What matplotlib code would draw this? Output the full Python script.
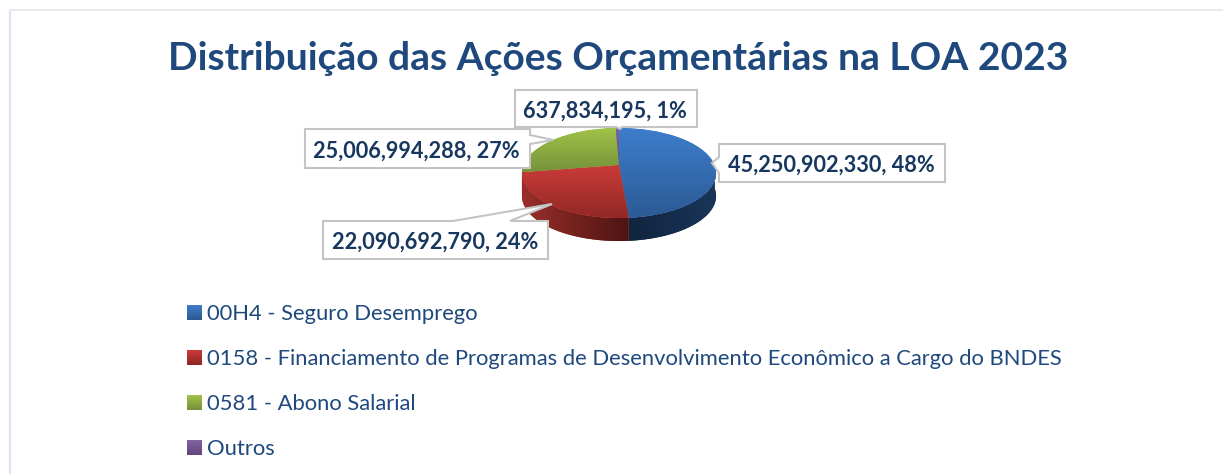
import numpy as np
import matplotlib
matplotlib.use("Agg")
import matplotlib.pyplot as plt
from matplotlib.colors import LinearSegmentedColormap as LSC
from matplotlib.legend_handler import HandlerBase
from matplotlib.patches import Patch, Polygon, Rectangle
from matplotlib.transforms import Transform

title = "Distribuição das Ações Orçamentárias na LOA 2023"
categories = ["00H4 - Seguro Desemprego",
              "0158 - Financiamento de Programas de Desenvolvimento Econômico a Cargo do BNDES",
              "0581 - Abono Salarial",
              "Outros"]
values = [45250902330, 22090692790, 25006994288, 637834195]
percents = [48, 24, 27, 1]

top_cols = [("#3E7DCC", "#2C5A94"), ("#CB3B38", "#922826"), ("#A0C348", "#76923A"), ("#8064A2", "#64477F")]
wall_cols = [("#10253F", "#1A3558"), ("#9A2E2B", "#4E1512"), ("#9A2E2B", "#9A2E2B"), ("#50386B", "#50386B")]
TXT = "#1F497D"
LBL = "#17375E"
FONT = "Lato"
plt.rcParams["font.family"] = [FONT, "DejaVu Sans"]

W, H = 1223, 474
fig = plt.figure(figsize=(W / 100, H / 100), dpi=100, facecolor="white")
ax = fig.add_axes([0, 0, 1, 1])


class Persp(Transform):
    """Tilted-disc projection: unit pie disc -> figure pixel coordinates."""
    input_dims = output_dims = 2
    has_inverse = False
    is_separable = False
    CX, CY, AX, AY, K = 619.0, 165.0, 95.5, 43.6, 0.178

    def transform_non_affine(self, v):
        v = np.asarray(v, float)
        w = 1 + self.K * v[:, 1]
        return np.column_stack([self.CX + self.AX * v[:, 0] / w, self.CY - self.AY * v[:, 1] / w])


persp = Persp()
wedges, _ = ax.pie(values, startangle=90, counterclock=False, radius=1)
ax.set_aspect("auto")
ax.set_xlim(0, W)
ax.set_ylim(H, 0)
ax.set_autoscale_on(False)
ax.axis("off")

DEPTH = 23
for w, (c0, c1), (s0, s1) in zip(wedges, top_cols, wall_cols):
    # side wall: visible part of the rim (front half only)
    a0, a1 = w.theta1 % 360, w.theta2 % 360
    if a1 <= a0:
        a1 += 360
    th = np.radians(np.linspace(a0, a1, 200))
    pts = np.column_stack([np.cos(th), np.sin(th)])
    pts = pts[pts[:, 1] <= 0.0]
    if len(pts) > 1:
        rim = persp.transform_non_affine(pts)
        poly = np.vstack([rim, (rim + [0, DEPTH])[::-1]])
        wall = Polygon(poly, closed=True, fc=s0, ec="none", zorder=2)
        ax.add_patch(wall)
        x0, x1 = poly[:, 0].min(), poly[:, 0].max()
        im = ax.imshow(np.linspace(0, 1, 128)[None, :], cmap=LSC.from_list("w", [s0, s1]),
                       extent=(x0, x1, poly[:, 1].max(), poly[:, 1].min()), aspect="auto", zorder=2.1)
        im.set_clip_path(wall)
    # top surface
    w.set_transform(persp + ax.transData)
    w.set_facecolor(c0)
    w.set_edgecolor("none")
    w.set_zorder(3)
    th = np.radians(np.linspace(w.theta1, w.theta2, 100))
    outline = persp.transform_non_affine(np.vstack([[0, 0], np.column_stack([np.cos(th), np.sin(th)])]))
    im = ax.imshow(np.linspace(0, 1, 128)[:, None], cmap=LSC.from_list("t", [c0, c1]),
                   extent=(outline[:, 0].min(), outline[:, 0].max(), outline[:, 1].max(), outline[:, 1].min()),
                   aspect="auto", zorder=3.1)
    im.set_clip_path(w)
ax.set_xlim(0, W)
ax.set_ylim(H, 0)

# chart-area frame
ax.plot([9.5, 9.5], [9.5, H], color="#DCE6F2", lw=1.6, zorder=1, solid_capstyle="butt")
ax.plot([9.5, W], [9.5, 9.5], color="#E0E6EC", lw=1.2, zorder=1, solid_capstyle="butt")

ax.text(618, 58, title, ha="center", va="center", fontsize=28.1, fontweight="bold", color=TXT, zorder=6)

# callouts in series order: label box centre, and outline = box plus pointer
callouts = [
    ((831, 165.5), [(719, 144), (945, 144), (945, 182), (719, 182), (719, 173), (712, 163), (719, 157)]),
    ((435, 242.5), [(323, 221), (453, 221), (552, 204), (510, 221), (548, 221), (548, 259), (323, 259)]),
    ((416.5, 151), [(305, 129), (530, 129), (530, 135), (553, 140), (530, 144), (530, 168), (305, 168)]),
    ((605, 111), [(515, 90), (697, 90), (697, 127), (622, 127), (620, 129), (616, 127), (515, 127)]),
]
for (centre, shape), v, p in zip(callouts, values, percents):
    ax.add_patch(Polygon(shape, closed=True, fc="white", ec="#C4C4C4", lw=1.5, zorder=5, joinstyle="miter"))
    ax.text(centre[0], centre[1], f"{v:,}, {p}%", ha="center", va="center",
            fontsize=15.6, fontweight="bold", color=LBL, zorder=6)


class GradHandler(HandlerBase):
    def create_artists(self, legend, orig, xd, yd, width, height, fontsize, trans):
        c0, c1 = orig.grad
        cm = LSC.from_list("l", [c0, c1])
        n = 8
        return [Rectangle((-xd, -yd + height * (n - 1 - k) / n), width, height / n + 0.1, fc=cm(k / (n - 1)),
                          ec="none", transform=trans) for k in range(n)]


handles = []
for c, g in zip(categories, top_cols):
    h = Patch(label=c)
    h.grad = g
    handles.append(h)
leg = ax.legend(handles=handles, loc="upper left", bbox_to_anchor=(187 / W, 1 - 304 / H), frameon=False,
                handler_map={Patch: GradHandler()}, fontsize=15.8, labelcolor=TXT, labelspacing=1.14,
                handlelength=0.7, handleheight=0.7, handletextpad=0.22, borderpad=0, borderaxespad=0)
leg.set_zorder(6)

fig.savefig("out.png", dpi=100, facecolor="white")
